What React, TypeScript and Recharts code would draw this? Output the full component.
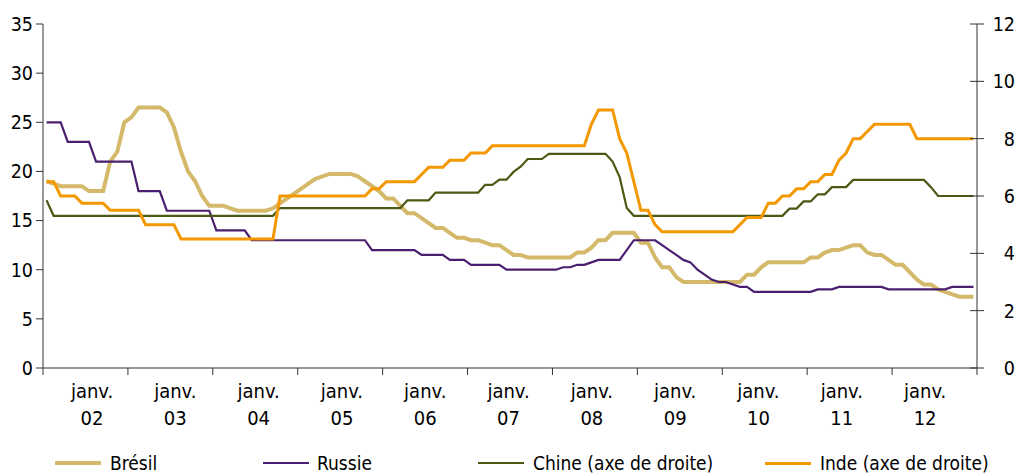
import React from 'react';
import { Line, LineChart, XAxis, YAxis } from 'recharts';

// Taux directeurs des BRIC, données mensuelles janv. 2002 – déc. 2012.
// Brésil et Russie sur l'axe de gauche, Chine et Inde sur l'axe de droite.

const YEARS = ['02', '03', '04', '05', '06', '07', '08', '09', '10', '11', '12'];

// one row per year, Jan..Dec
const BRESIL = [
  19.0, 18.75, 18.5, 18.5, 18.5, 18.5, 18.0, 18.0, 18.0, 21.0, 22.0, 25.0,
  25.5, 26.5, 26.5, 26.5, 26.5, 26.0, 24.5, 22.0, 20.0, 19.0, 17.5, 16.5,
  16.5, 16.5, 16.25, 16.0, 16.0, 16.0, 16.0, 16.0, 16.25, 16.75, 17.25, 17.75,
  18.25, 18.75, 19.25, 19.5, 19.75, 19.75, 19.75, 19.75, 19.5, 19.0, 18.5, 18.0,
  17.25, 17.25, 16.5, 15.75, 15.75, 15.25, 14.75, 14.25, 14.25, 13.75, 13.25, 13.25,
  13.0, 13.0, 12.75, 12.5, 12.5, 12.0, 11.5, 11.5, 11.25, 11.25, 11.25, 11.25,
  11.25, 11.25, 11.25, 11.75, 11.75, 12.25, 13.0, 13.0, 13.75, 13.75, 13.75, 13.75,
  12.75, 12.75, 11.25, 10.25, 10.25, 9.25, 8.75, 8.75, 8.75, 8.75, 8.75, 8.75,
  8.75, 8.75, 8.75, 9.5, 9.5, 10.25, 10.75, 10.75, 10.75, 10.75, 10.75, 10.75,
  11.25, 11.25, 11.75, 12.0, 12.0, 12.25, 12.5, 12.5, 11.75, 11.5, 11.5, 11.0,
  10.5, 10.5, 9.75, 9.0, 8.5, 8.5, 8.0, 7.75, 7.5, 7.25, 7.25, 7.25,
];

const RUSSIE = [
  25, 25, 25, 23, 23, 23, 23, 21, 21, 21, 21, 21,
  21, 18, 18, 18, 18, 16, 16, 16, 16, 16, 16, 16,
  14, 14, 14, 14, 14, 13, 13, 13, 13, 13, 13, 13,
  13, 13, 13, 13, 13, 13, 13, 13, 13, 13, 12, 12,
  12, 12, 12, 12, 12, 11.5, 11.5, 11.5, 11.5, 11, 11, 11,
  10.5, 10.5, 10.5, 10.5, 10.5, 10, 10, 10, 10, 10, 10, 10,
  10, 10.25, 10.25, 10.5, 10.5, 10.75, 11, 11, 11, 11, 12, 13,
  13, 13, 13, 12.5, 12, 11.5, 11, 10.75, 10, 9.5, 9, 8.75,
  8.75, 8.5, 8.25, 8.25, 7.75, 7.75, 7.75, 7.75, 7.75, 7.75, 7.75, 7.75,
  7.75, 8, 8, 8, 8.25, 8.25, 8.25, 8.25, 8.25, 8.25, 8.25, 8,
  8, 8, 8, 8, 8, 8, 8, 8, 8.25, 8.25, 8.25, 8.25,
];

const CHINE = [
  5.85, 5.31, 5.31, 5.31, 5.31, 5.31, 5.31, 5.31, 5.31, 5.31, 5.31, 5.31,
  5.31, 5.31, 5.31, 5.31, 5.31, 5.31, 5.31, 5.31, 5.31, 5.31, 5.31, 5.31,
  5.31, 5.31, 5.31, 5.31, 5.31, 5.31, 5.31, 5.31, 5.31, 5.58, 5.58, 5.58,
  5.58, 5.58, 5.58, 5.58, 5.58, 5.58, 5.58, 5.58, 5.58, 5.58, 5.58, 5.58,
  5.58, 5.58, 5.58, 5.85, 5.85, 5.85, 5.85, 6.12, 6.12, 6.12, 6.12, 6.12,
  6.12, 6.12, 6.39, 6.39, 6.57, 6.57, 6.84, 7.02, 7.29, 7.29, 7.29, 7.47,
  7.47, 7.47, 7.47, 7.47, 7.47, 7.47, 7.47, 7.47, 7.2, 6.66, 5.58, 5.31,
  5.31, 5.31, 5.31, 5.31, 5.31, 5.31, 5.31, 5.31, 5.31, 5.31, 5.31, 5.31,
  5.31, 5.31, 5.31, 5.31, 5.31, 5.31, 5.31, 5.31, 5.31, 5.56, 5.56, 5.81,
  5.81, 6.06, 6.06, 6.31, 6.31, 6.31, 6.56, 6.56, 6.56, 6.56, 6.56, 6.56,
  6.56, 6.56, 6.56, 6.56, 6.56, 6.31, 6.0, 6.0, 6.0, 6.0, 6.0, 6.0,
];

const INDE = [
  6.5, 6.5, 6.0, 6.0, 6.0, 5.75, 5.75, 5.75, 5.75, 5.5, 5.5, 5.5,
  5.5, 5.5, 5.0, 5.0, 5.0, 5.0, 5.0, 4.5, 4.5, 4.5, 4.5, 4.5,
  4.5, 4.5, 4.5, 4.5, 4.5, 4.5, 4.5, 4.5, 4.5, 6.0, 6.0, 6.0,
  6.0, 6.0, 6.0, 6.0, 6.0, 6.0, 6.0, 6.0, 6.0, 6.0, 6.25, 6.25,
  6.5, 6.5, 6.5, 6.5, 6.5, 6.75, 7.0, 7.0, 7.0, 7.25, 7.25, 7.25,
  7.5, 7.5, 7.5, 7.75, 7.75, 7.75, 7.75, 7.75, 7.75, 7.75, 7.75, 7.75,
  7.75, 7.75, 7.75, 7.75, 7.75, 8.5, 9.0, 9.0, 9.0, 8.0, 7.5, 6.5,
  5.5, 5.5, 5.0, 4.75, 4.75, 4.75, 4.75, 4.75, 4.75, 4.75, 4.75, 4.75,
  4.75, 4.75, 5.0, 5.25, 5.25, 5.25, 5.75, 5.75, 6.0, 6.0, 6.25, 6.25,
  6.5, 6.5, 6.75, 6.75, 7.25, 7.5, 8.0, 8.0, 8.25, 8.5, 8.5, 8.5,
  8.5, 8.5, 8.5, 8.0, 8.0, 8.0, 8.0, 8.0, 8.0, 8.0, 8.0, 8.0,
];

const LEFT_TICKS = [0, 5, 10, 15, 20, 25, 30, 35];
const RIGHT_TICKS = [0, 2, 4, 6, 8, 10, 12];
const YEAR_TICKS = [0, 12, 24, 36, 48, 60, 72, 84, 96, 108, 120, 132];

const SERIES = [
  { key: 'bresil', label: 'Brésil', color: '#D4B96B', width: 4, axis: 'left' },
  { key: 'russie', label: 'Russie', color: '#4B1F6F', width: 2.2, axis: 'left' },
  { key: 'chine', label: 'Chine (axe de droite)', color: '#4A5A14', width: 2.2, axis: 'right' },
  { key: 'inde', label: 'Inde (axe de droite)', color: '#F39800', width: 3, axis: 'right' },
];

const FONT = '"Liberation Sans Narrow", "Arial Narrow", "DejaVu Sans Condensed", sans-serif';
const AXIS = '#333';

const data = BRESIL.map((v, i) => ({
  t: i + 0.5,
  bresil: v,
  russie: RUSSIE[i],
  chine: CHINE[i],
  inde: INDE[i],
}));

const YearTick = (props: any) => {
  const { x, y, index } = props;
  if (index >= YEARS.length) return null;
  const cx = x + 49 - 1.6 * index;
  return (
    <text x={cx} y={y} textAnchor="middle" fontSize={20} fill="#000" fontFamily={FONT}>
      <tspan x={cx} dy={23}>janv.</tspan>
      <tspan x={cx} dy={27}>{YEARS[index]}</tspan>
    </text>
  );
};

const RightTick = (props: any) => {
  const { x, y, payload } = props;
  return (
    <g>
      <line x1={x - 7} x2={x + 7} y1={y} y2={y} stroke={AXIS} strokeWidth={1} />
      <text x={x + 38} y={y} dy="0.36em" textAnchor="end" fontSize={19.5} fill="#000" fontFamily={FONT}>
        {payload.value}
      </text>
    </g>
  );
};

// legend line start / text start, in page pixels
const legendPos = [
  { line: 55, text: 110 },
  { line: 263, text: 317 },
  { line: 478, text: 533 },
  { line: 765, text: 820 },
];

export default function App() {
  return (
    <div
      style={{
        position: 'absolute',
        left: 0,
        top: 0,
        width: 1019,
        height: 474,
        overflow: 'hidden',
        fontFamily: FONT,
        background: '#fff',
      }}
    >
      <LineChart width={1019} height={440} data={data} margin={{ top: 24, right: 0, bottom: 12, left: 8 }}>
        <XAxis
          dataKey="t"
          type="number"
          domain={[0, 132]}
          ticks={YEAR_TICKS}
          interval={0}
          height={60}
          stroke={AXIS}
          tickSize={7}
          tickMargin={0}
          tick={<YearTick />}
        />
        <YAxis
          yAxisId="left"
          domain={[0, 35]}
          ticks={LEFT_TICKS}
          interval={0}
          width={35}
          stroke={AXIS}
          tickSize={7}
          tickMargin={3}
          tick={{ fontSize: 19.5, fill: '#000', fontFamily: FONT }}
        />
        <YAxis
          yAxisId="right"
          orientation="right"
          domain={[0, 12]}
          ticks={RIGHT_TICKS}
          interval={0}
          width={42}
          stroke={AXIS}
          tickLine={false}
          tickSize={0}
          tickMargin={0}
          tick={<RightTick />}
        />
        {SERIES.map((s) => (
          <Line
            key={s.key}
            yAxisId={s.axis}
            type="linear"
            dataKey={s.key}
            stroke={s.color}
            strokeWidth={s.width}
            dot={false}
            activeDot={false}
            isAnimationActive={false}
          />
        ))}
      </LineChart>
      {SERIES.map((s, i) => (
        <div key={s.key}>
          <div
            style={{
              position: 'absolute',
              left: legendPos[i].line,
              top: 463 - s.width / 2,
              width: 46,
              height: s.width,
              background: s.color,
            }}
          />
          <div
            style={{
              position: 'absolute',
              left: legendPos[i].text,
              top: 450,
              fontSize: 19,
              lineHeight: '26px',
              color: '#000',
              whiteSpace: 'nowrap',
            }}
          >
            {s.label}
          </div>
        </div>
      ))}
    </div>
  );
}
